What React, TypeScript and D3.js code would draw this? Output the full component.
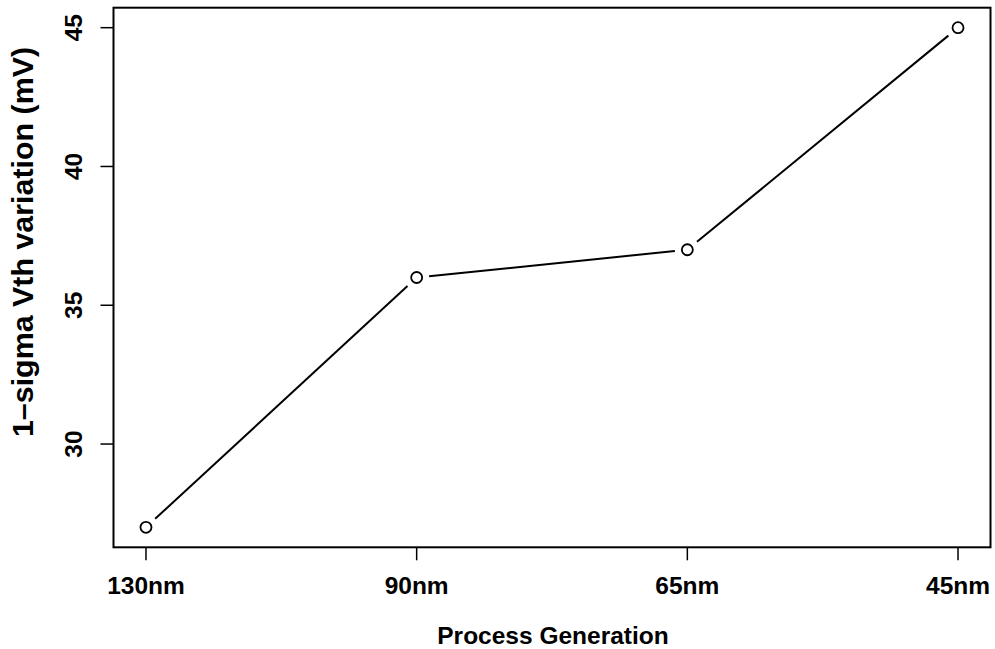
import React from "react";
import * as d3 from "d3";

const categories = ["130nm", "90nm", "65nm", "45nm"];
const values = [27, 36, 37, 45];
const yTicks = [30, 35, 40, 45];
const xTitle = "Process Generation";
const yTitle = "1–sigma Vth variation (mV)";

const W = 995;
const H = 649;
const left = 113.5;
const right = 990.5;
const top = 7.7;
const bottom = 547.3;
const FONT = "'Liberation Sans', Arial, Helvetica, sans-serif";

export default function App() {
  const n = categories.length;
  const xPad = (n - 1) * 0.04;
  const x = d3.scaleLinear().domain([1 - xPad, n + xPad]).range([left, right]);
  const yMin = d3.min(values)!;
  const yMax = d3.max(values)!;
  const yPad = (yMax - yMin) * 0.04;
  const y = d3.scaleLinear().domain([yMin - yPad, yMax + yPad]).range([bottom, top]);

  const pts = values.map((v, i) => [x(i + 1), y(v)] as [number, number]);
  const gap = 12.5;
  const segs = pts.slice(0, -1).map((p, i) => {
    const q = pts[i + 1];
    const dx = q[0] - p[0];
    const dy = q[1] - p[1];
    const len = Math.sqrt(dx * dx + dy * dy);
    const ux = dx / len;
    const uy = dy / len;
    return [p[0] + ux * gap, p[1] + uy * gap, q[0] - ux * gap, q[1] - uy * gap];
  });
  const line = d3.line();

  return (
    <svg width={W} height={H} style={{ position: "absolute", left: 0, top: 0, background: "#fff" }} fontFamily={FONT}>
      <rect x={0} y={0} width={W} height={H} fill="#fff" />
      {segs.map((s, i) => (
        <path key={i} d={line([[s[0], s[1]], [s[2], s[3]]]) || ""} stroke="#000" strokeWidth={2} fill="none" />
      ))}
      {pts.map((p, i) => (
        <circle key={i} cx={p[0]} cy={p[1]} r={5.5} fill="#fff" stroke="#000" strokeWidth={1.8} />
      ))}
      <rect x={left} y={top} width={right - left} height={bottom - top} fill="none" stroke="#000" strokeWidth={2} />
      {categories.map((c, i) => (
        <g key={c}>
          <line x1={x(i + 1)} x2={x(i + 1)} y1={bottom} y2={bottom + 13} stroke="#000" strokeWidth={1.5} />
          <text x={x(i + 1)} y={594} textAnchor="middle" fontSize={24.5} fontWeight="bold">{c}</text>
        </g>
      ))}
      {yTicks.map((t) => (
        <g key={t}>
          <line x1={left} x2={left - 13} y1={y(t)} y2={y(t)} stroke="#000" strokeWidth={1.5} />
          <text transform={`translate(82,${y(t)}) rotate(-90)`} textAnchor="middle" fontSize={24.5} fontWeight="bold">{t}</text>
        </g>
      ))}
      <text x={(left + right) / 2 + 1} y={644} textAnchor="middle" fontSize={24.5} fontWeight="bold">{xTitle}</text>
      <text transform={`translate(33,242) rotate(-90)`} textAnchor="middle" fontSize={30.4} fontWeight="bold">{yTitle}</text>
    </svg>
  );
}
